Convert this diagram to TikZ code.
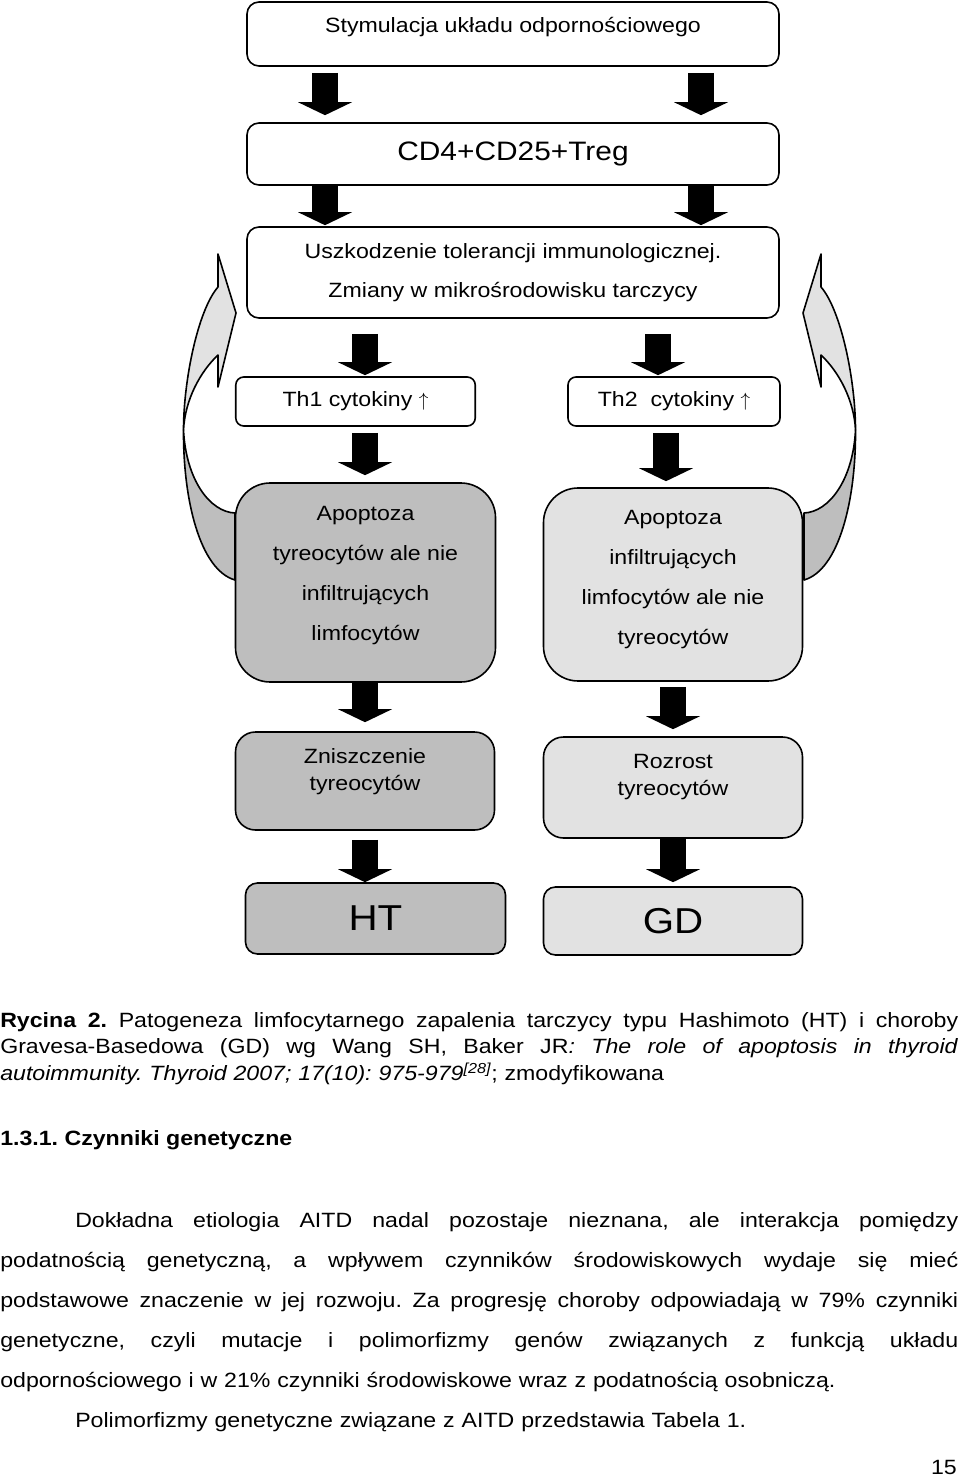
\documentclass[tikz,border=0pt]{standalone}
\usepackage{fontspec}
\setmainfont{Liberation Sans}[FakeStretch=1.12]
\usepackage{tikz}
\usetikzlibrary{arrows.meta}
\definecolor{dkgray}{RGB}{190,190,190}
\definecolor{ltgray}{RGB}{226,226,226}
\newcommand{\bxfont}{\fontsize{15.5}{30}\selectfont}
\newcommand{\justline}[1]{{\spaceskip=\fontdimen2\font plus 1fil\xspaceskip=\spaceskip\makebox[718.5pt][s]{#1}}}
\newcommand{\indline}[1]{\hspace*{56.25pt}{\spaceskip=\fontdimen2\font plus 1fil\xspaceskip=\spaceskip\makebox[662.25pt][s]{#1}}}
\frenchspacing

\begin{document}
\begin{tikzpicture}[
x=0.75pt, y=-0.75pt,
box/.style={
  draw,
  line width=1.2pt,
  rounded corners=9pt,
  inner sep=0pt,
  font=\bxfont,
  align=center
  },
txt/.style={
  inner sep=0pt,
  align=center
  },
blk/.style={
  line width=19.5pt,
  -{Triangle[width=40.5pt,length=9.75pt,line width=0pt]}
  },
side/.style={
  draw,
  line width=1.2pt,
  line join=round
  }
]
\useasboundingbox (0,0) rectangle (960,1483);

% curved arrows at both sides
\foreach \sx/\ox in {1/0,-1/1039} {
\begin{scope}[shift={(\ox,0)},xscale=\sx]
  \path[side, fill=dkgray] (183.5,430) .. controls (186,480) and (210,512) .. (235,513)
    -- (235,580) .. controls (200,570) and (183,500) .. (183.5,430) -- cycle;
  \path[side, fill=ltgray] (218,254) -- (236,313) -- (218,387) -- (218,355)
    .. controls (200,372) and (185,400) .. (183.5,430)
    .. controls (183.5,380) and (198,310) .. (218,287) -- cycle;
\end{scope}
}

\node[box, minimum width=399pt, minimum height=48pt,
  label={[txt, font=\bxfont, yshift=5pt]center:Stymulacja układu odpornościowego}] (stym) at (513,34) {};
\node[box, minimum width=399pt, minimum height=46.5pt, font=\fontsize{20}{24}\selectfont] (cd4) at (513,154) {CD4+CD25+Treg};
\node[box, minimum width=399pt, minimum height=68.25pt, font=\fontsize{15.5}{29.25}\selectfont] (usz) at (513,272.5)
  {Uszkodzenie tolerancji immunologicznej.\\Zmiany w mikrośrodowisku tarczycy};
\node[box, rounded corners=6pt, minimum width=179.6pt, minimum height=36.75pt] (th1) at (355.5,401.5) {Th1 cytokiny $\uparrow$};
\node[box, rounded corners=6pt, minimum width=159pt, minimum height=36.75pt] (th2) at (674,401.5) {Th2~ cytokiny $\uparrow$};
\node[box, fill=dkgray, rounded corners=26pt, minimum width=195pt, minimum height=149.25pt,
  label={[txt, font=\bxfont, yshift=5.6pt]center:Apoptoza\\tyreocytów ale nie\\infiltrujących\\limfocytów}] (apl) at (365.5,582.5) {};
\node[box, fill=ltgray, rounded corners=26pt, minimum width=194.25pt, minimum height=144.75pt,
  label={[txt, font=\bxfont, yshift=3.4pt]center:Apoptoza\\infiltrujących\\limfocytów ale nie\\tyreocytów}] (apr) at (673,584.5) {};
\node[box, fill=dkgray, rounded corners=15pt, minimum width=194.25pt, minimum height=73.5pt,
  label={[txt, font=\fontsize{15.5}{20.25}\selectfont, yshift=7.1pt]center:Zniszczenie\\tyreocytów}] (zn) at (365,781) {};
\node[box, fill=ltgray, rounded corners=15pt, minimum width=194.25pt, minimum height=75.75pt,
  label={[txt, font=\fontsize{15.5}{20.25}\selectfont, yshift=7.9pt]center:Rozrost\\tyreocytów}] (roz) at (673,787.5) {};
\node[box, fill=dkgray, minimum width=195pt, minimum height=53.25pt, font=\fontsize{27}{30}\selectfont] (ht) at (375.5,918.5) {HT};
\node[box, fill=ltgray, minimum width=194.25pt, minimum height=51pt, font=\fontsize{27}{30}\selectfont] (gd) at (673,921) {GD};

\coordinate (cA) at (325,0);
\coordinate (cB) at (701,0);
\coordinate (cC) at (365,0);
\coordinate (cD) at (658,0);
\coordinate (cE) at (666,0);
\coordinate (cF) at (673,0);
\foreach \src/\dst/\col/\sa/\sb in {
  stym/cd4/cA/4.5/5.25, stym/cd4/cB/4.5/5.25,
  cd4/usz/cA/0/0.75, cd4/usz/cB/0/0.75,
  usz/th1/cC/11.25/0.75, usz/th2/cD/11.25/0.75,
  th1/apl/cC/4.5/5.25, th2/apr/cE/4.5/4.5,
  apl/zn/cC/0/6.75, apr/roz/cF/3.75/5.25,
  zn/ht/cC/6.75/0, roz/gd/cF/0/3}
  \draw[blk, shorten <=\sa pt, shorten >=\sb pt] (\src.south -| \col) -- (\dst.north -| \col);

% page text below the figure
\node[anchor=base west, inner sep=0pt, text width=718.5pt, align=left, font=\fontsize{15.5}{19.9}\selectfont] (capt) at (0,1027)
  {\justline{\textbf{Rycina 2.} Patogeneza limfocytarnego zapalenia tarczycy typu Hashimoto (HT) i choroby}\\
   \justline{Gravesa-Basedowa (GD) wg Wang SH, Baker JR\textit{: The role of apoptosis in thyroid}}\\
   \textit{autoimmunity. Thyroid 2007; 17(10): 975-979\textsuperscript{[28]}}; zmodyfikowana};
\node[anchor=base west, inner sep=0pt, font=\fontsize{15.5}{19.9}\selectfont\bfseries] (sec) at (0,1145) {1.3.1. Czynniki genetyczne};
\node[anchor=base west, inner sep=0pt, text width=718.5pt, align=left, font=\fontsize{15.5}{30}\selectfont] (body) at (0,1227)
  {\indline{Dokładna etiologia AITD nadal pozostaje nieznana, ale interakcja pomiędzy}\\
   \justline{podatnością genetyczną, a wpływem czynników środowiskowych wydaje się mieć}\\
   \justline{podstawowe znaczenie w jej rozwoju. Za progresję choroby odpowiadają w 79\% czynniki}\\
   \justline{genetyczne, czyli mutacje i polimorfizmy genów związanych z funkcją układu}\\
   odpornościowego i w 21\% czynniki środowiskowe wraz z podatnością osobniczą.\\
   \hspace*{56.25pt}Polimorfizmy genetyczne związane z AITD przedstawia Tabela 1.};
\node[anchor=base east, inner sep=0pt, font=\fontsize{15.5}{18}\selectfont] (pnum) at (957,1474) {15};
\end{tikzpicture}
\end{document}
